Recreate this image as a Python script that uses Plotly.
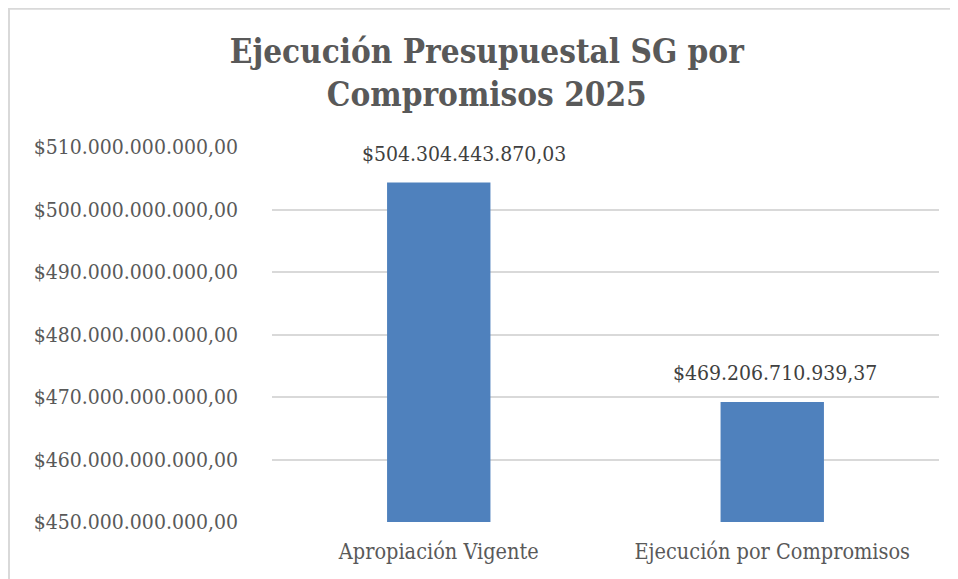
import plotly.graph_objects as go

categories = ["Apropiación Vigente", "Ejecución por Compromisos"]
values = [504304443870.03, 469206710939.37]
value_labels = ["$504.304.443.870,03", "$469.206.710.939,37"]
label_xshift = [25, 3]
tick_vals = [450e9, 460e9, 470e9, 480e9, 490e9, 500e9, 510e9]
tick_text = ["$450.000.000.000,00", "$460.000.000.000,00", "$470.000.000.000,00",
             "$480.000.000.000,00", "$490.000.000.000,00", "$500.000.000.000,00",
             "$510.000.000.000,00"]
title_text = "Ejecución Presupuestal SG por<br>Compromisos 2025"

FONT = "DejaVu Serif Condensed"

# page body has an 8px offset; figure sized to fill the rest of the 958x579 window
W, H = 950, 571

fig = go.Figure()
fig.add_trace(go.Bar(
    x=categories, y=[v - 450e9 for v in values], base=450e9,
    marker=dict(color="#4f81bd", line=dict(width=0)),
    width=0.31, hoverinfo="skip",
))

for c, v, t, dx in zip(categories, values, value_labels, label_xshift):
    fig.add_annotation(x=c, y=v, text=t, showarrow=False, yanchor="bottom",
                       yshift=15, xshift=dx,
                       font=dict(family=FONT, size=21, color="#404040"))

# outer chart border (top and left visible in cropped reference)
fig.add_shape(type="rect", xref="paper", yref="paper",
              x0=-0.3943, x1=1.2, y0=-0.3, y1=1.369,
              line=dict(color="#d9d9d9", width=2), fillcolor="rgba(0,0,0,0)")

fig.update_layout(
    width=W, height=H,
    margin=dict(l=264, r=19, t=139, b=57),
    paper_bgcolor="white", plot_bgcolor="white",
    showlegend=False,
    title=dict(text=title_text, x=0.504, xanchor="center",
               yref="container", y=0.904, yanchor="top",
               font=dict(family=FONT, size=33, color="#595959", weight="bold")),
    xaxis=dict(showgrid=False, showline=False, zeroline=False, ticks="",
               ticklabelstandoff=14,
               tickfont=dict(family=FONT, size=21.5, color="#595959")),
    yaxis=dict(range=[450e9, 510e9], tickvals=tick_vals, ticktext=tick_text,
               showgrid=True, gridcolor="#d9d9d9", gridwidth=1.5,
               zeroline=False, showline=False, ticks="",
               ticklabelstandoff=33,
               tickfont=dict(family=FONT, size=21, color="#595959")),
)

fig.write_html("out.html")
